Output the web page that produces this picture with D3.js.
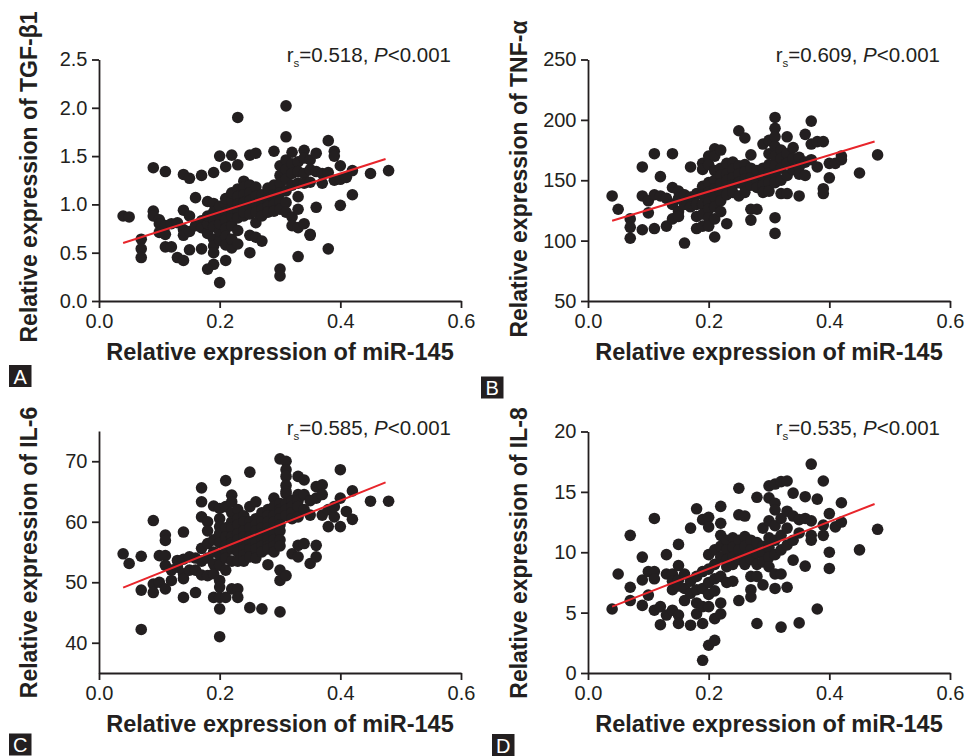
<!DOCTYPE html>
<html>
<head>
<meta charset="utf-8">
<script src="https://cdn.jsdelivr.net/npm/d3@7"></script>
<style>
  html, body { margin: 0; padding: 0; background: #fff; }
  svg { display: block; font-family: "Liberation Sans", Arial, sans-serif; }
</style>
</head>
<body>
<svg id="chart" width="965" height="756"></svg>
<script>
// ---------------- DATA ----------------
const xTickValues = [0, 0.2, 0.4, 0.6];
const yTicksA = [0, 0.5, 1.0, 1.5, 2.0, 2.5];
const yTicksB = [50, 100, 150, 200, 250];
const yTicksC = [40, 50, 60, 70];
const yTicksD = [0, 5, 10, 15, 20];

const xTitle = "Relative expression of miR-145";
const yTitles = ["Relative expression of TGF-\u03b21", "Relative expression of TNF-\u03b1",
                 "Relative expression of IL-6", "Relative expression of IL-8"];
const panelLetters = ["A", "B", "C", "D"];
const rsValues = ["0.518", "0.609", "0.585", "0.535"];
const pText = "<0.001";

// fitted line endpoints [x, y]
const fitA = [[0.04, 0.60], [0.475, 1.47]];
const fitB = [[0.04, 116.5], [0.475, 182.1]];
const fitC = [[0.04, 49.1], [0.475, 66.5]];
const fitD = [[0.04, 5.5], [0.475, 14.0]];

// scatter points [miR-145, marker]
const pointsA = [[0.04,0.88],[0.05,0.87],[0.07,0.64],[0.07,0.54],[0.07,0.45],
[0.09,1.38],[0.11,1.34],[0.09,0.93],[0.09,0.88],[0.10,0.84],[0.10,0.80],[0.11,0.78],[0.12,0.80],[0.13,0.81],[0.10,0.71],[0.11,0.69],[0.11,0.56],[0.12,0.56],[0.13,0.45],[0.14,0.42],
[0.14,1.31],[0.15,1.27],[0.17,1.30],[0.19,1.33],[0.16,1.07],[0.14,0.94],[0.15,0.88],[0.14,0.74],[0.14,0.68],[0.15,0.72],[0.15,0.53],[0.17,0.54],[0.16,0.78],[0.17,0.83],[0.17,0.76],[0.18,0.70],[0.18,0.80],[0.18,0.88],[0.18,1.03],[0.19,1.01],[0.19,0.92],[0.19,0.85],[0.19,0.77],[0.19,0.64],[0.19,0.57],[0.19,0.50],[0.19,0.38],[0.18,0.33],[0.20,0.19],
[0.20,1.50],[0.21,1.39],[0.22,1.51],[0.23,1.90],[0.23,1.41],[0.21,0.42],[0.20,0.63],[0.20,0.72],[0.20,0.80],[0.20,0.90],[0.20,0.98],[0.21,1.00],[0.21,1.06],[0.21,0.92],[0.21,0.84],[0.21,0.75],[0.21,0.67],[0.21,0.58],
[0.22,0.55],[0.22,0.64],[0.22,0.78],[0.22,0.88],[0.22,0.96],[0.22,1.04],[0.22,1.12],[0.23,1.16],[0.23,1.08],[0.23,1.00],[0.23,0.94],[0.23,0.86],[0.23,0.73],[0.23,0.59],
[0.24,1.24],[0.24,1.18],[0.24,1.10],[0.24,1.02],[0.24,0.95],[0.24,0.88],[0.24,0.92],[0.25,1.51],[0.26,1.53],[0.25,1.20],[0.25,1.12],[0.25,1.04],[0.25,0.97],[0.25,0.90],[0.25,0.68],[0.25,0.50],
[0.26,1.18],[0.26,1.08],[0.26,1.00],[0.26,0.92],[0.26,0.81],[0.26,0.66],[0.27,1.10],[0.27,1.02],[0.27,0.95],[0.27,0.88],[0.27,0.62],[0.28,1.17],[0.28,1.06],[0.28,0.98],[0.28,0.92],
[0.29,1.55],[0.29,1.20],[0.29,1.10],[0.29,1.00],[0.29,0.93],[0.30,1.40],[0.30,1.30],[0.30,1.22],[0.30,1.12],[0.30,1.03],[0.30,0.95],[0.30,0.33],[0.30,0.26],
[0.31,2.02],[0.31,1.70],[0.31,1.46],[0.31,1.36],[0.31,1.26],[0.31,1.14],[0.31,1.02],[0.31,0.92],[0.32,1.54],[0.32,1.42],[0.32,1.32],[0.32,1.20],[0.32,0.87],[0.32,0.78],
[0.33,1.44],[0.33,1.34],[0.33,1.22],[0.33,1.08],[0.33,0.95],[0.33,0.76],[0.33,0.46],[0.34,1.56],[0.34,1.48],[0.34,1.32],[0.34,1.22],[0.34,0.80],[0.35,0.69],
[0.35,1.46],[0.35,1.36],[0.35,1.23],[0.35,0.68],[0.36,1.53],[0.36,1.34],[0.36,0.97],[0.37,1.32],[0.37,1.22],[0.38,1.66],[0.38,0.54],[0.38,1.33],
[0.39,1.55],[0.39,1.50],[0.39,1.25],[0.40,1.40],[0.40,1.26],[0.40,0.99],[0.41,1.28],[0.42,1.35],[0.42,1.10],[0.45,1.32],[0.48,1.35]];

const pointsB = [[0.04,137],[0.05,126],[0.07,118],[0.07,111],[0.07,102],[0.09,161],[0.09,137],[0.09,109],[0.10,123],[0.10,133],[0.11,172],[0.11,138],[0.11,110],[0.12,153],[0.12,137],[0.13,135],[0.13,112],
[0.14,172],[0.14,144],[0.14,130],[0.14,118],[0.15,141],[0.15,135],[0.15,124],[0.15,120],[0.16,98],[0.16,138],[0.16,130],[0.17,161],[0.17,136],[0.17,128],[0.18,139],[0.18,130],[0.18,120],[0.18,110],
[0.19,164],[0.19,159],[0.19,145],[0.19,138],[0.19,130],[0.19,122],[0.19,112],[0.20,170],[0.20,163],[0.20,148],[0.20,140],[0.20,132],[0.20,126],[0.20,119],[0.20,112],
[0.21,176],[0.21,170],[0.21,158],[0.21,150],[0.21,143],[0.21,136],[0.21,128],[0.21,118],[0.21,103],[0.22,175],[0.22,160],[0.22,154],[0.22,147],[0.22,140],[0.22,133],[0.22,124],
[0.23,164],[0.23,155],[0.23,150],[0.23,145],[0.23,138],[0.23,114],[0.24,165],[0.24,159],[0.24,152],[0.24,146],[0.24,140],[0.25,191],[0.25,162],[0.25,155],[0.25,148],[0.25,137],
[0.26,185],[0.26,163],[0.26,157],[0.26,151],[0.26,145],[0.26,140],[0.27,171],[0.27,160],[0.27,152],[0.27,146],[0.27,126],[0.27,117],[0.28,158],[0.28,150],[0.28,144],[0.28,126],
[0.29,180],[0.29,160],[0.29,153],[0.29,146],[0.29,140],[0.30,183],[0.30,172],[0.30,163],[0.30,156],[0.30,148],[0.30,141],
[0.31,202],[0.31,193],[0.31,186],[0.31,178],[0.31,170],[0.31,162],[0.31,155],[0.31,148],[0.31,119],[0.31,106],[0.32,175],[0.32,168],[0.32,160],[0.32,150],[0.32,139],
[0.33,186],[0.33,172],[0.33,164],[0.33,154],[0.33,139],[0.34,177],[0.34,168],[0.34,159],[0.35,169],[0.35,161],[0.35,155],[0.35,137],[0.36,188],[0.36,165],[0.36,154],
[0.37,199],[0.37,180],[0.37,167],[0.38,182],[0.38,161],[0.39,182],[0.39,143],[0.39,139],[0.40,164],[0.40,152],[0.41,164],[0.42,167],[0.42,170],[0.45,156],[0.48,171]];

const pointsC = [[0.04,54.7],[0.05,53.1],[0.07,54.3],[0.07,48.7],[0.07,42.2],[0.09,60.2],[0.09,49.7],[0.09,48.3],[0.10,54.4],[0.10,50.0],[0.11,57.8],[0.11,56.9],[0.11,54.4],[0.11,52.8],[0.11,48.9],
[0.12,50.3],[0.12,52.0],[0.13,53.6],[0.13,52.5],[0.14,58.3],[0.14,53.8],[0.14,51.4],[0.14,50.6],[0.14,47.5],[0.15,54.2],[0.15,52.0],[0.16,52.0],[0.16,48.3],[0.16,54.0],
[0.17,65.6],[0.17,63.3],[0.17,60.8],[0.17,55.6],[0.17,53.5],[0.17,51.2],[0.18,60.0],[0.18,58.5],[0.18,56.4],[0.18,54.0],[0.18,51.1],[0.19,62.6],[0.19,57.0],[0.19,55.0],[0.19,53.0],[0.19,51.4],[0.19,47.5],
[0.20,62.2],[0.20,60.5],[0.20,59.2],[0.20,58.1],[0.20,56.5],[0.20,54.5],[0.20,52.8],[0.20,50.3],[0.20,49.2],[0.20,47.5],[0.20,45.6],[0.20,41.0],
[0.21,66.8],[0.21,62.5],[0.21,59.0],[0.21,57.5],[0.21,56.0],[0.21,55.0],[0.21,54.0],[0.21,52.0],[0.21,47.5],
[0.22,64.4],[0.22,63.3],[0.22,61.5],[0.22,60.0],[0.22,59.0],[0.22,57.5],[0.22,56.5],[0.22,55.5],[0.22,53.5],[0.22,48.9],
[0.23,62.0],[0.23,60.5],[0.23,59.5],[0.23,58.0],[0.23,57.0],[0.23,56.0],[0.23,55.0],[0.23,53.5],[0.23,48.9],[0.23,47.5],
[0.24,61.0],[0.24,60.0],[0.24,58.5],[0.24,57.5],[0.24,56.5],[0.24,55.5],[0.24,54.5],[0.24,53.5],
[0.25,68.2],[0.25,62.5],[0.25,60.0],[0.25,59.0],[0.25,57.5],[0.25,56.5],[0.25,55.5],[0.25,54.2],[0.25,45.8],
[0.26,63.3],[0.26,60.5],[0.26,59.5],[0.26,58.5],[0.26,57.5],[0.26,56.5],[0.26,55.5],[0.26,54.0],
[0.27,61.5],[0.27,60.0],[0.27,59.0],[0.27,58.0],[0.27,57.0],[0.27,56.0],[0.27,55.0],[0.27,45.6],
[0.28,62.0],[0.28,61.0],[0.28,60.0],[0.28,59.0],[0.28,58.0],[0.28,57.0],[0.28,56.0],[0.28,55.5],[0.28,52.9],
[0.29,63.9],[0.29,62.5],[0.29,61.0],[0.29,60.0],[0.29,59.0],[0.29,58.0],[0.29,57.0],[0.29,56.0],[0.29,55.0],
[0.30,70.4],[0.30,63.0],[0.30,62.0],[0.30,61.5],[0.30,60.5],[0.30,59.5],[0.30,58.5],[0.30,57.0],[0.30,56.0],[0.30,52.0],[0.30,50.3],[0.30,45.1],
[0.31,70.0],[0.31,68.6],[0.31,67.5],[0.31,66.0],[0.31,65.0],[0.31,64.6],[0.31,63.0],[0.31,62.0],[0.31,61.0],[0.31,51.1],
[0.32,63.5],[0.32,62.5],[0.32,61.5],[0.32,60.5],[0.32,54.7],[0.33,67.5],[0.33,64.5],[0.33,63.5],[0.33,62.5],[0.33,60.8],[0.33,56.1],[0.33,54.2],
[0.34,66.9],[0.34,64.5],[0.34,62.0],[0.34,56.4],[0.35,63.5],[0.35,61.1],[0.35,53.1],[0.36,65.8],[0.36,63.9],[0.36,56.1],[0.36,54.2],[0.37,66.1],[0.37,64.5],[0.37,61.1],
[0.38,59.2],[0.38,62.0],[0.39,60.8],[0.39,62.5],[0.40,68.6],[0.40,63.9],[0.40,59.2],[0.41,61.7],[0.42,65.1],[0.42,60.4],[0.45,63.4],[0.48,63.4]];

const pointsD = [[0.04,5.3],[0.05,8.2],[0.07,11.4],[0.07,7.1],[0.07,6.0],[0.09,9.6],[0.09,7.7],[0.09,5.6],[0.10,6.45],[0.10,8.4],[0.11,12.8],[0.11,8.4],[0.11,7.8],[0.11,5.2],[0.12,5.5],[0.12,4.0],
[0.13,9.8],[0.13,8.2],[0.13,4.8],[0.14,8.2],[0.14,6.9],[0.14,5.2],[0.14,7.6],[0.15,10.65],[0.15,8.9],[0.15,7.7],[0.15,7.2],[0.15,4.8],[0.15,4.1],[0.16,6.0],[0.16,8.2],[0.16,7.0],
[0.17,12.0],[0.17,6.6],[0.17,7.6],[0.17,3.96],[0.18,13.6],[0.18,6.9],[0.18,4.9],[0.18,5.8],[0.18,8.0],[0.19,12.7],[0.19,4.1],[0.19,1.05],[0.19,5.5],[0.19,7.0],[0.19,8.4],
[0.20,12.9],[0.20,12.1],[0.20,2.3],[0.20,9.8],[0.20,8.6],[0.20,7.5],[0.20,6.5],[0.20,5.5],[0.21,2.7],[0.21,4.5],[0.21,6.8],[0.21,7.8],[0.21,9.0],[0.21,10.2],
[0.22,13.8],[0.22,12.4],[0.22,11.4],[0.22,4.9],[0.22,5.8],[0.22,8.0],[0.22,9.6],[0.22,10.5],[0.23,11.0],[0.23,10.2],[0.23,9.4],[0.23,8.8],[0.23,7.5],[0.24,11.2],[0.24,10.4],[0.24,9.6],[0.24,9.0],[0.24,7.6],
[0.25,15.3],[0.25,13.1],[0.25,11.0],[0.25,10.2],[0.25,9.4],[0.25,6.0],[0.26,13.0],[0.26,11.3],[0.26,10.5],[0.26,9.6],[0.26,9.0],[0.27,11.0],[0.27,10.2],[0.27,9.4],[0.27,8.0],[0.27,6.9],[0.27,6.3],
[0.28,14.55],[0.28,10.8],[0.28,9.9],[0.28,9.0],[0.28,4.1],[0.28,8.0],[0.29,12.0],[0.29,10.5],[0.29,9.9],[0.29,9.2],[0.29,7.3],[0.30,15.5],[0.30,14.5],[0.30,12.6],[0.30,11.2],[0.30,10.4],[0.30,9.6],[0.30,8.8],
[0.31,15.65],[0.31,14.05],[0.31,13.5],[0.31,12.2],[0.31,11.0],[0.31,9.8],[0.31,8.2],[0.31,7.0],[0.32,15.85],[0.32,12.8],[0.32,11.4],[0.32,10.2],[0.32,8.2],[0.32,3.8],
[0.33,15.9],[0.33,13.4],[0.33,12.0],[0.33,10.6],[0.33,7.1],[0.34,14.9],[0.34,13.0],[0.34,11.0],[0.34,9.35],[0.35,12.7],[0.35,11.6],[0.35,4.15],[0.36,14.6],[0.36,12.8],[0.36,8.85],
[0.37,17.3],[0.37,11.4],[0.37,11.0],[0.37,12.6],[0.38,14.4],[0.38,5.3],[0.39,15.9],[0.39,12.25],[0.39,11.4],[0.40,13.2],[0.40,10.0],[0.40,8.66],[0.41,12.1],[0.42,14.1],[0.42,12.5],[0.45,10.2],[0.48,11.9]];

// ---------------- DRAW ----------------
const svg = d3.select("#chart");
const INK = "#231f20";
const FONT_TICK = 20, FONT_XTITLE = 23.5, FONT_YTITLE = 23, FONT_ANN = 20.5;

const panels = [
  { pts: pointsA, fit: fitA, yDomain: [0, 2.5], yTicks: yTicksA, fmt: d3.format(".1f"),
    x0: 99, x1: 461, yBot: 301, yTop: 59.5, yTitleX: 37, yTitleY: 177, xTitleY: 360,
    annY: 62, box: [9, 365] },
  { pts: pointsB, fit: fitB, yDomain: [50, 250], yTicks: yTicksB, fmt: d3.format("d"),
    x0: 588, x1: 950, yBot: 301, yTop: 59.5, yTitleX: 527, yTitleY: 179, xTitleY: 359.5,
    annY: 62, box: [481, 376.5] },
  { pts: pointsC, fit: fitC, yDomain: [35, 75], yTicks: yTicksC, fmt: d3.format("d"),
    x0: 99, x1: 461, yBot: 673, yTop: 431, yTitleX: 37, yTitleY: 552.5, xTitleY: 732,
    annY: 435, box: [9, 733.5] },
  { pts: pointsD, fit: fitD, yDomain: [0, 20], yTicks: yTicksD, fmt: d3.format("d"),
    x0: 588, x1: 950, yBot: 673, yTop: 431.5, yTitleX: 527, yTitleY: 553, xTitleY: 732,
    annY: 435, box: [492, 734] }
];

panels.forEach((p, i) => {
  const g = svg.append("g");
  const x = d3.scaleLinear().domain([0, 0.6]).range([p.x0, p.x1]);
  const y = d3.scaleLinear().domain(p.yDomain).range([p.yBot, p.yTop]);

  // dots
  g.append("g").selectAll("circle").data(p.pts).join("circle")
    .attr("cx", d => x(d[0])).attr("cy", d => y(d[1]))
    .attr("r", 5.8).attr("fill", INK);

  // regression line
  g.append("line")
    .attr("x1", x(p.fit[0][0])).attr("y1", y(p.fit[0][1]))
    .attr("x2", x(p.fit[1][0])).attr("y2", y(p.fit[1][1]))
    .attr("stroke", "#e8252b").attr("stroke-width", 2);

  // axes
  const xa = g.append("g").attr("transform", `translate(0,${p.yBot})`)
    .call(d3.axisBottom(x).tickValues(xTickValues).tickFormat(d3.format(".1f"))
      .tickSize(7).tickSizeOuter(0).tickPadding(5.5));
  const ya = g.append("g").attr("transform", `translate(${p.x0},0)`)
    .call(d3.axisLeft(y).tickValues(p.yTicks).tickFormat(p.fmt)
      .tickSize(7).tickSizeOuter(0).tickPadding(4.5));
  [xa, ya].forEach(a => {
    a.select(".domain").attr("stroke", INK).attr("stroke-width", 1.8);
    a.selectAll(".tick line").attr("stroke", INK).attr("stroke-width", 1.8);
    a.selectAll(".tick text").attr("fill", INK)
      .style("font-size", FONT_TICK + "px")
      .style("font-family", '"Liberation Sans", Arial, sans-serif');
  });

  // axis titles
  g.append("text")
    .attr("x", (p.x0 + p.x1) / 2).attr("y", p.xTitleY)
    .attr("text-anchor", "middle").attr("font-weight", "bold")
    .attr("font-size", FONT_XTITLE).attr("fill", INK)
    .text(xTitle);
  g.append("text")
    .attr("transform", `translate(${p.yTitleX},${p.yTitleY}) rotate(-90)`)
    .attr("text-anchor", "middle").attr("font-weight", "bold")
    .attr("font-size", FONT_YTITLE).attr("fill", INK)
    .text(yTitles[i]);

  // annotation
  const ann = g.append("text")
    .attr("x", p.x1 - 10).attr("y", p.annY)
    .attr("text-anchor", "end").attr("font-size", FONT_ANN).attr("fill", INK);
  ann.append("tspan").text("r");
  ann.append("tspan").attr("font-size", 11.5).attr("dy", 5).text("s");
  ann.append("tspan").attr("dy", -5).text("=" + rsValues[i] + ", ");
  ann.append("tspan").attr("font-style", "italic").text("P");
  ann.append("tspan").text(pText);

  // panel letter
  g.append("rect")
    .attr("x", p.box[0]).attr("y", p.box[1]).attr("width", 22.5).attr("height", 22)
    .attr("fill", INK);
  g.append("text")
    .attr("x", p.box[0] + 11.25).attr("y", p.box[1] + 18.5)
    .attr("text-anchor", "middle").attr("font-size", 20).attr("fill", "#fff")
    .text(panelLetters[i]);
});
</script>
</body>
</html>
